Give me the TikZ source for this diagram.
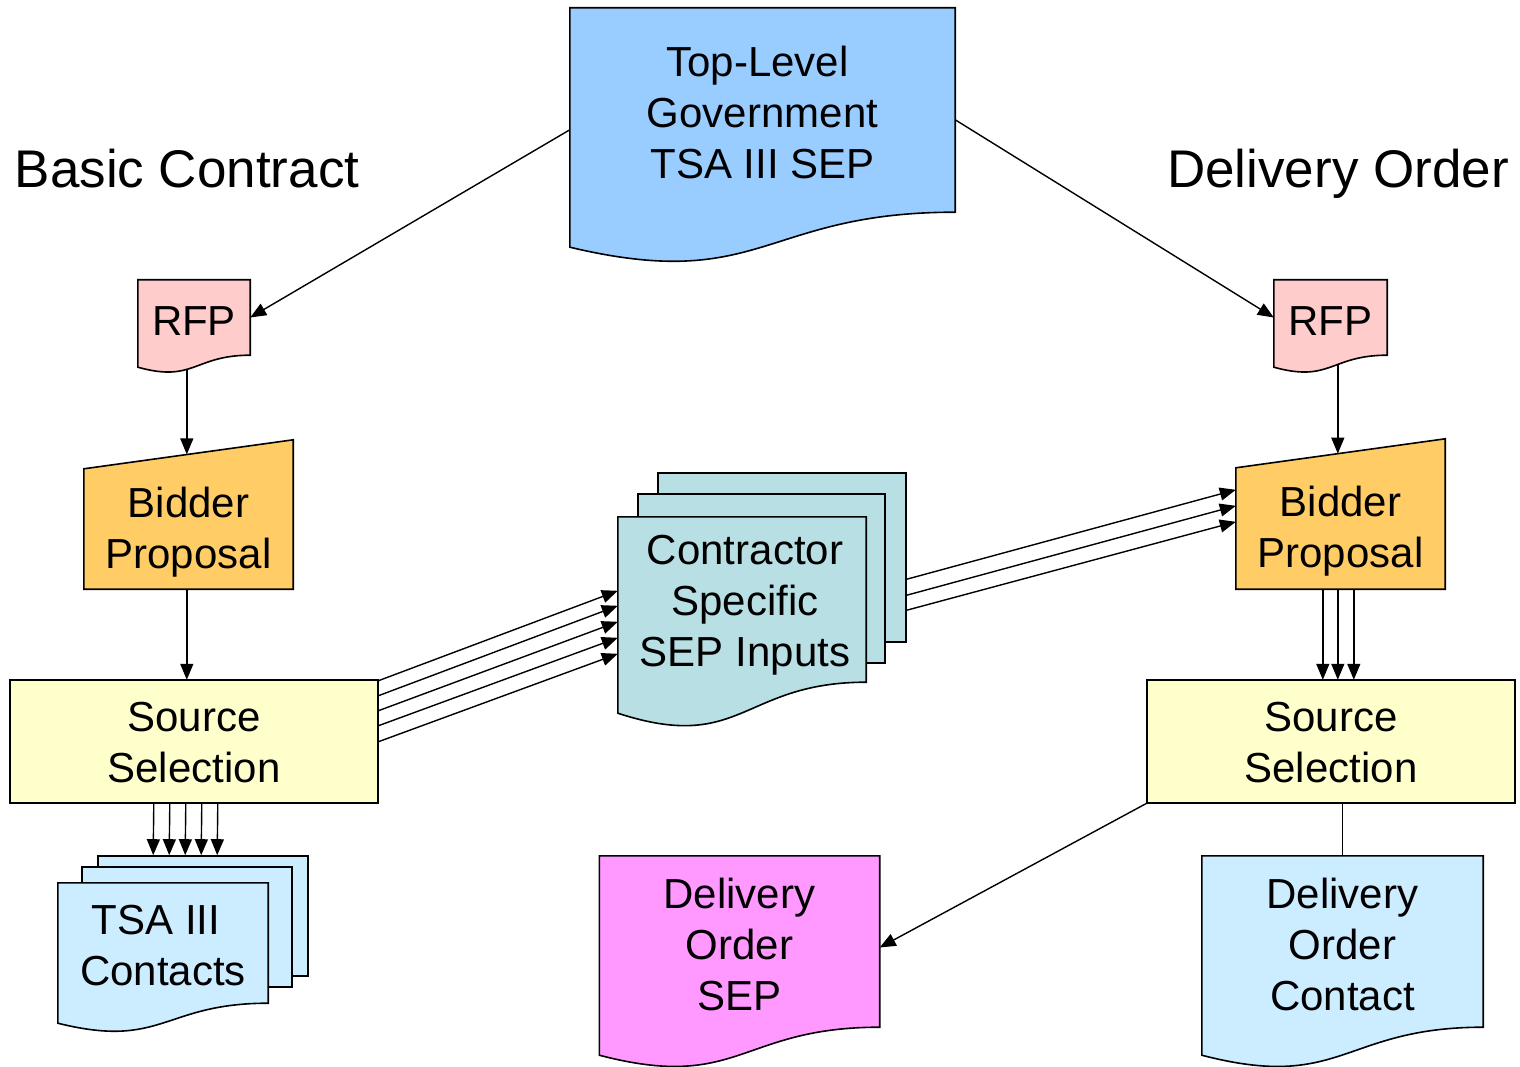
\documentclass[tikz,border=0pt]{standalone}
\usepackage{fontspec}
\setmainfont{Liberation Sans}
\usetikzlibrary{arrows.meta,calc}

\pgfdeclarelayer{links}
\pgfdeclarelayer{shapes}
\pgfsetlayers{links,shapes,main}

\definecolor{govblue}{HTML}{99CCFF}
\definecolor{rfppink}{HTML}{FFCCCC}
\definecolor{bidorange}{HTML}{FFCC66}
\definecolor{selyellow}{HTML}{FFFFCC}
\definecolor{contractblue}{HTML}{CCECFF}
\definecolor{inputteal}{HTML}{B8DFE3}
\definecolor{sepmagenta}{HTML}{FF99FF}

\tikzset{
  size/.style 2 args={rectangle, inner sep=0pt, minimum width=#1pt, minimum height=#2pt},
  lbl/.style={font=\fontsize{42}{51}\selectfont, align=center, inner sep=0pt},
  heading/.style={font=\fontsize{53}{60}\selectfont, inner sep=0pt, anchor=base},
  outline/.style={draw=black, line width=1.6pt, line join=miter},
  link/.style={line width=1.4pt},
  arr/.style={link, -{Triangle[length=16pt,width=13pt]}},
}

% document sheet with a wavy lower edge (#1 node, #2 drop of the left corner, #3 fill)
\newcommand{\docsheet}[3]{%
  \filldraw[outline, fill=#3] (#1.north west) -- (#1.north east) -- (#1.south east)
    .. controls (#1.south) and ($(#1.south)+(0,{2.31*#2})$) .. ($(#1.south west)+(0,#2)$) -- cycle;}
% manual-input sheet with a sloped top (#1 node, #2 rise of the right corner, #3 fill)
\newcommand{\inputsheet}[3]{%
  \filldraw[outline, fill=#3] (#1.north west) -- ($(#1.north east)+(0,-#2)$)
    -- (#1.south east) -- (#1.south west) -- cycle;}

\begin{document}
\begin{tikzpicture}[x=1pt, y=-1pt]
\useasboundingbox (0,0) rectangle (1520,1067);

% headings
\node[heading] (basic)  at (187,188)  {Basic Contract};
\node[heading] (delord) at (1338,188) {Delivery Order};

% areas of the sheets and boxes
\node[size={385}{204}] (gov)   at (762.5,110)  {};
\node[size={112}{75}]  (rfpL)  at (194,317.5)  {};
\node[size={113}{75}]  (rfpR)  at (1330.5,317.5) {};
\node[size={209}{120}] (bidL)  at (188.5,529)  {};
\node[size={209}{121}] (bidR)  at (1340.5,528.5) {};
\node[size={368}{123}] (ssL)   at (194,741.5)  {};
\node[size={368}{123}] (ssR)   at (1331,741.5) {};
\node[size={210}{120}] (tsaF)  at (163,943)    {};
\node[size={248}{165}] (conF)  at (742,599.5)  {};
\node[size={280}{171}] (doSEP) at (739.5,941.5) {};
\node[size={281}{171}] (doCon) at (1342.5,941.5) {};

% their texts
\node[lbl] (govT)   at ([yshift=-2pt]gov.center)   {Top-Level\hspace*{10pt}\\Government\\TSA III SEP};
\node[lbl] (rfpLT)  at ([yshift=-4pt]rfpL.center)  {RFP};
\node[lbl] (rfpRT)  at ([yshift=-4pt]rfpR.center)  {RFP};
\node[lbl] (bidLT)  at ([yshift=-3pt]bidL.center)  {Bidder\\Proposal};
\node[lbl] (bidRT)  at ([yshift=-3pt]bidR.center)  {Bidder\\Proposal};
\node[lbl] (ssLT)   at ([yshift=-1pt]ssL.center)   {Source\\Selection};
\node[lbl] (ssRT)   at ([yshift=-1pt]ssR.center)   {Source\\Selection};
\node[lbl] (tsaFT)  at ([yshift=-3pt]tsaF.center)  {TSA III\hspace*{14pt}\\Contacts};
\node[lbl] (conFT)  at ([xshift=3pt,yshift=-6pt]conF.center) {Contractor\\Specific\\SEP Inputs};
\node[lbl] (doSEPT) at ([yshift=-2.5pt]doSEP.center) {Delivery\\Order\\SEP};
\node[lbl] (doConT) at ([yshift=-2.5pt]doCon.center) {Delivery\\Order\hspace*{12pt}\\Contact};

\begin{pgfonlayer}{shapes}
  \docsheet{gov}{35}{govblue}
  \docsheet{rfpL}{12}{rfppink}
  \docsheet{rfpR}{12}{rfppink}
  \inputsheet{bidL}{29}{bidorange}
  \inputsheet{bidR}{29}{bidorange}
  \filldraw[outline, fill=selyellow] (ssL.north west) rectangle (ssL.south east);
  \filldraw[outline, fill=selyellow] (ssR.north west) rectangle (ssR.south east);
  % stacked contract sheets
  \node[outline, fill=contractblue, size={210}{120}] (tsaB) at (203,916) {};
  \node[outline, fill=contractblue, size={210}{120}] (tsaM) at (187,927) {};
  \docsheet{tsaF}{20}{contractblue}
  % stacked input sheets
  \node[outline, fill=inputteal, size={248}{169}] (conB) at (782,557.5) {};
  \node[outline, fill=inputteal, size={247}{169}] (conM) at (761.5,578.5) {};
  \docsheet{conF}{31}{inputteal}
  \docsheet{doSEP}{28}{sepmagenta}
  \docsheet{doCon}{28}{contractblue}
\end{pgfonlayer}

\begin{pgfonlayer}{links}
  \draw[arr] ($(gov.north west)+(0,122)$) -- (rfpL.east);
  \draw[arr] ($(gov.north east)+(0,112)$) -- (rfpR.west);
  % basic contract column
  \draw[arr] ($(rfpL.south west)+(49,0)$) -- ($(bidL.north west)+(103,-14.4)$);
  \draw[arr] ($(bidL.south west)+(103,0)$) -- ($(ssL.north west)+(177,0)$);
  \foreach \o in {144,160,176,192,208}
    \draw[arr] ($(ssL.south west)+(\o,0)$) -- ($(tsaB.north west)+(\o-88,0)$);
  \foreach \a/\b in {1/74,16/89,31/105,46/121,62/137}
    \draw[arr] ($(ssL.north east)+(0,\a)$) -- ($(conF.north west)+(0,\b)$);
  % delivery order column
  \foreach \a/\b in {107/22,123/38,138/54}
    \draw[arr] ($(conB.north east)+(0,\a)$) -- ($(bidR.north west)+(0,\b)$);
  \draw[arr] ($(rfpR.south west)+(64,0)$) -- ($(bidR.north west)+(102,-14.2)$);
  \foreach \o in {87,102,118}
    \draw[arr] ($(bidR.south west)+(\o,0)$) -- ($(ssR.north west)+(\o+89,0)$);
  \draw[arr] (ssR.south west) -- ($(doSEP.east)+(0,6)$);
  \draw[link] (doCon.north |- ssR.south) -- (doCon.north);
\end{pgfonlayer}
\end{tikzpicture}
\end{document}
